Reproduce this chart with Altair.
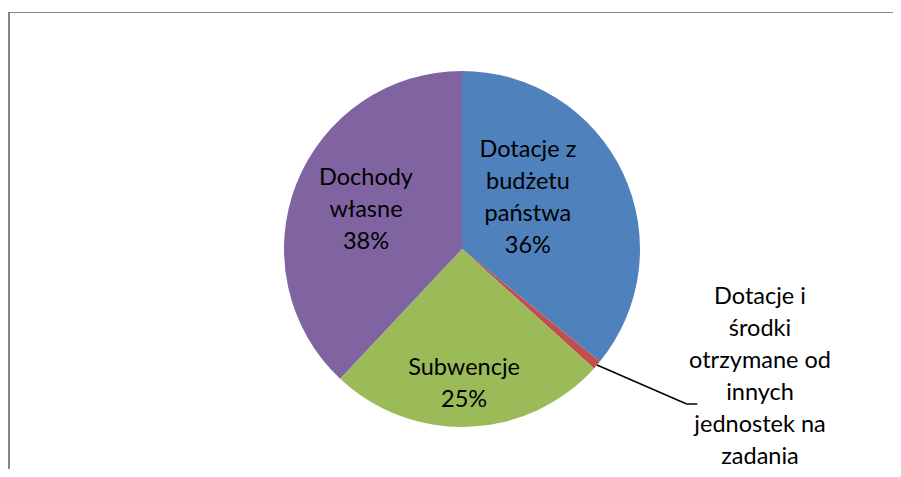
import altair as alt
import pandas as pd

# Data (percent shares, clockwise from 12 o'clock)
names = [
    "Dotacje z budżetu państwa",
    "Dotacje i środki otrzymane od innych jednostek na zadania",
    "Subwencje",
    "Dochody własne",
]
label_lines = [
    "Dotacje z\nbudżetu\npaństwa",
    "Dotacje i\nśrodki\notrzymane od\ninnych\njednostek na\nzadania",
    "Subwencje",
    "Dochody\nwłasne",
]
values = [35.9, 0.8, 25.3, 38.0]
order = [1, 2, 3, 4]
colors = ["#4F81BD", "#C0504D", "#9BBB59", "#8064A2"]

df = pd.DataFrame({"name": names, "label": label_lines, "value": values, "order": order})

W, H = 884, 457
CX, CY = 453, 237
R = 178
FONT = "Lato"
FS = 23.5
LH = 32

base = (
    alt.Chart(df)
    .transform_joinaggregate(total="sum(value)")
    .transform_window(cum="sum(value)", sort=[alt.SortField("order")], frame=[None, 0])
    .transform_calculate(
        a1="2*PI*datum.cum/datum.total",
        a0="2*PI*(datum.cum-datum.value)/datum.total",
    )
    .transform_calculate(
        amid="(datum.a0+datum.a1)/2",
        # the percentage line of the tiny slice falls below the visible area
        txt="datum.value/datum.total >= 0.01 ? datum.label + '\\n' + format(datum.value/datum.total, '.0%') : datum.label",
    )
)

pie = base.mark_arc(outerRadius=R, stroke=None).encode(
    x=alt.value(CX),
    y=alt.value(CY),
    theta=alt.Theta("a0:Q", scale=None),
    theta2="a1:Q",
    color=alt.Color("name:N", scale=alt.Scale(domain=names, range=colors), legend=None),
)


def label(name, radius, dx, dy):
    return (
        base.transform_filter(alt.datum.name == name)
        .mark_text(
            radius=radius, dx=dx, dy=dy, font=FONT, fontSize=FS, lineHeight=LH,
            lineBreak="\n", align="center", baseline="middle", color="black",
        )
        .encode(
            x=alt.value(CX),
            y=alt.value(CY),
            theta=alt.Theta("amid:Q", scale=None),
            text="txt:N",
        )
    )


labels = [
    label(names[0], 84, -10, -63.2),
    label(names[1], 300, 70.5, -147.6),
    label(names[2], 134, -3.4, -15),
    label(names[3], 104, 0.7, -32.4),
]

# leader line for the small slice: from slice edge to the label
leader = (
    base.transform_filter(alt.datum.name == names[1])
    .transform_calculate(
        lx=f"{CX} + {R}*sin(datum.amid)",
        ly=f"{CY} - {R}*cos(datum.amid)",
    )
    .mark_rule(color="black", strokeWidth=1.5)
    .encode(
        x=alt.X("lx:Q", scale=None),
        y=alt.Y("ly:Q", scale=None),
        x2=alt.value(CX + 224.7),
        y2=alt.value(CY + 155),
    )
)
leader_h = (
    base.transform_filter(alt.datum.name == names[1])
    .mark_rule(color="black", strokeWidth=1.5)
    .encode(x=alt.value(CX + 224.7), x2=alt.value(CX + 235.3), y=alt.value(CY + 155))
)

# chart-area frame (top and left edges; right and bottom lie outside the picture)
frame_top = (
    base.transform_filter(alt.datum.order == 1)
    .mark_rule(color="#868686", strokeWidth=1.2)
    .encode(x=alt.value(0), x2=alt.value(W), y=alt.value(0.5))
)
frame_left = (
    base.transform_filter(alt.datum.order == 1)
    .mark_rule(color="#868686", strokeWidth=2)
    .encode(x=alt.value(0), y=alt.value(0), y2=alt.value(H))
)

chart = (
    alt.layer(pie, leader, leader_h, *labels, frame_top, frame_left)
    .properties(
        width=W,
        height=H,
        padding={"left": 1, "top": 4, "right": 0, "bottom": 0},
        autosize=alt.AutoSizeParams(type="none"),
        background="white",
    )
    .configure_view(stroke=None)
)

chart.save("out.html", embed_options={"renderer": "svg", "actions": False})
